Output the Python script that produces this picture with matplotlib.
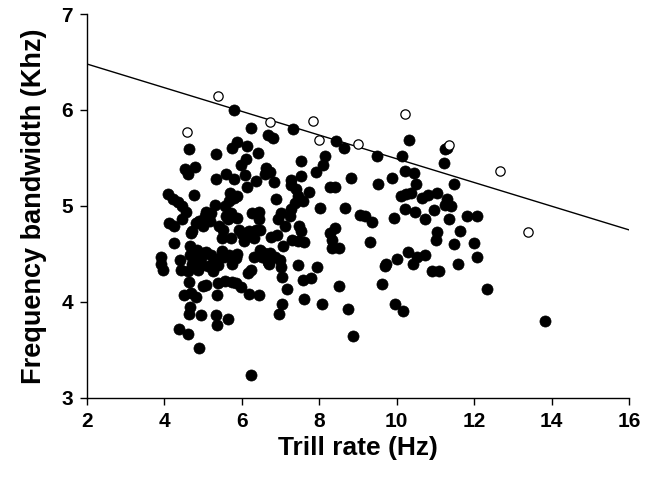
import matplotlib
matplotlib.use("Agg")
import matplotlib.pyplot as plt

# Filled points: trill rate (Hz), frequency bandwidth (kHz)
filled_x = [
    3.93, 3.92, 3.97,
    4.09, 4.22, 4.35, 4.13, 4.24, 4.26, 4.39,
    4.47, 4.57, 4.47, 4.53, 4.61, 4.65, 4.41, 4.43, 4.62, 4.63, 4.67, 4.67, 4.72, 4.52, 4.68, 4.66, 4.65, 4.61, 4.69,
    4.79, 4.78, 4.73, 4.83, 4.91, 4.79, 4.84, 4.86, 4.81, 4.96, 4.96, 4.91, 5.04, 5.07, 5.01, 5.02, 5.00, 4.93,
    5.09, 5.09, 5.14, 5.18, 5.20, 5.20, 5.25, 5.25, 5.28, 5.31, 5.33, 5.33, 5.34, 5.36, 5.36, 5.41, 5.39, 5.39,
    5.47, 5.49, 5.50, 5.52, 5.59, 5.59, 5.57, 5.55, 5.58, 5.65, 5.65, 5.68, 5.68, 5.71, 5.73, 5.73, 5.76, 5.76, 5.79, 5.74, 5.81, 5.81,
    5.84, 5.87, 5.89, 5.89, 5.89, 5.86, 5.94, 5.98, 6.00, 5.99, 6.05, 6.08, 6.12, 6.14, 6.14, 6.10, 6.16, 6.18, 6.19, 6.23, 6.24, 6.25, 6.26,
    6.32, 6.31, 6.38, 6.37, 6.42, 6.45, 6.45, 6.45, 6.47, 6.47, 6.53, 6.59, 6.58, 6.63, 6.69, 6.69,
    6.70, 6.72, 6.74, 6.76, 6.82, 6.84, 6.85, 6.88, 6.90, 6.94, 6.96, 6.99, 7.01, 7.02, 7.03, 7.04, 7.06, 7.12,
    7.18, 7.24, 7.27, 7.27, 7.27, 7.30, 7.33, 7.38, 7.40, 7.45, 7.46, 7.46, 7.49, 7.52, 7.52, 7.52, 7.57, 7.59, 7.60, 7.61,
    7.74, 7.80, 7.91, 7.94, 8.02, 8.06, 8.11, 8.16, 8.27, 8.40, 8.29, 8.34, 8.34, 8.51, 8.40, 8.44, 8.51, 8.65, 8.67, 8.74, 8.83, 8.88,
    9.06, 9.17, 9.36, 9.32, 9.48, 9.51, 9.62, 9.70, 9.73, 9.89, 9.94, 9.95, 10.01, 10.12, 10.13, 10.15, 10.21, 10.21, 10.25, 10.30, 10.33, 10.37, 10.42, 10.45, 10.48, 10.49, 10.53,
    10.66, 10.74, 10.74, 10.80, 10.92, 10.96, 11.02, 11.03, 11.05, 11.10, 11.23, 11.24, 11.25, 11.30, 11.30, 11.36, 11.40, 11.49, 11.49, 11.58, 11.63, 11.81, 11.99, 12.06, 12.07, 12.32, 13.82,
]
filled_y = [
    4.47, 4.40, 4.33,
    5.12, 5.07, 5.04, 4.82, 4.79, 4.61, 3.72,
    5.00, 4.94, 4.86, 5.39, 5.33, 5.59, 4.44, 4.33, 4.32, 4.21, 4.58, 4.49, 4.40, 4.07, 4.09, 3.95, 3.87, 3.67, 4.72,
    5.41, 5.11, 4.74, 4.82, 4.84, 4.47, 4.54, 4.33, 4.05, 4.46, 3.86, 3.52, 4.90, 4.94, 4.79, 4.51, 4.17, 4.37,
    4.18, 4.52, 4.37, 4.84, 4.93, 4.49, 4.40, 4.32, 4.45, 5.01, 5.54, 5.28, 3.86, 3.76, 4.07, 4.79, 4.20, 4.38,
    4.47, 4.53, 4.67, 4.75, 5.33, 4.89, 5.00, 4.47, 4.22, 4.86, 3.82, 5.05, 4.49, 5.14, 4.93, 4.67, 5.60, 4.39, 5.08, 4.21, 5.28, 6.00,
    4.46, 4.50, 5.67, 5.10, 4.87, 4.20, 4.75, 5.43, 4.71, 4.16, 4.63, 5.32, 5.49, 5.62, 5.20, 4.72, 4.30, 4.74, 4.08, 3.24, 4.33, 5.81, 4.93,
    4.67, 4.47, 5.26, 4.75, 5.55, 4.94, 4.86, 4.07, 4.75, 4.54, 4.47, 5.33, 4.51, 5.40, 5.74, 4.42,
    4.40, 5.35, 4.51, 4.68, 5.71, 5.25, 4.47, 5.07, 4.70, 4.86, 3.87, 4.44, 4.93, 4.36, 3.98, 4.26, 4.58, 4.79,
    4.13, 4.89, 5.27, 5.22, 4.97, 4.65, 5.80, 5.03, 5.18, 4.63, 5.10, 4.38, 4.79, 5.47, 5.31, 4.74, 4.23, 5.05, 4.62, 4.03,
    5.15, 4.25, 5.35, 4.36, 4.98, 3.98, 5.43, 5.52, 5.20, 5.20, 4.72, 4.65, 4.56, 4.56, 4.77, 5.68, 4.17, 5.60, 4.98, 3.93, 5.29, 3.64,
    4.91, 4.89, 4.83, 4.62, 5.52, 5.23, 4.19, 4.37, 4.40, 5.29, 4.87, 3.98, 4.45, 5.10, 5.52, 3.91, 5.36, 4.97, 5.12, 4.52, 5.69, 5.14, 4.39, 5.34, 4.94, 5.23, 4.47,
    5.08, 4.86, 4.49, 5.11, 4.32, 4.96, 4.65, 4.73, 5.13, 4.32, 5.45, 5.01, 5.59, 5.07, 5.60, 4.86, 5.00, 5.23, 4.60, 4.39, 4.74, 4.89, 4.61, 4.89, 4.47, 4.13, 3.80,
]

# Open points
open_x = [5.40, 4.60, 6.74, 7.85, 7.99, 9.01, 10.21, 11.34, 12.66, 13.39]
open_y = [6.15, 5.77, 5.88, 5.885, 5.69, 5.65, 5.955, 5.63, 5.36, 4.725]

# Regression (upper-bound) line
line_x = [2, 16]
line_y = [6.48, 4.75]

x_ticks = [2, 4, 6, 8, 10, 12, 14, 16]
y_ticks = [3, 4, 5, 6, 7]

plt.rcParams['font.family'] = ['Liberation Sans', 'DejaVu Sans']

fig = plt.figure(figsize=(6.52, 4.84), dpi=100)
ax = fig.add_axes([0.133, 0.178, 0.832, 0.793])

ax.plot(line_x, line_y, color='black', lw=1.0, zorder=1)
ax.scatter(filled_x, filled_y, s=64, c='black', edgecolors='black', linewidths=0.5, zorder=2)
ax.scatter(open_x, open_y, s=45, facecolors='white', edgecolors='black', linewidths=0.9, zorder=3)

ax.set_xlim(2, 16)
ax.set_ylim(3, 7)
ax.set_xticks(x_ticks)
ax.set_yticks(y_ticks)
for lab in ax.get_xticklabels() + ax.get_yticklabels():
    lab.set_fontweight('bold')
    lab.set_fontsize(15)

ax.spines['top'].set_visible(False)
ax.spines['right'].set_visible(False)
ax.spines['left'].set_linewidth(1.0)
ax.spines['bottom'].set_linewidth(1.0)
ax.tick_params(direction='out', length=5, width=1.0)
ax.tick_params(axis='x', pad=5)
ax.tick_params(axis='y', pad=5)

ax.set_xlabel('Trill rate (Hz)', fontsize=19, fontweight='bold', labelpad=4)
ax.set_ylabel('Frequency bandwidth (Khz)', fontsize=19.5, fontweight='bold', labelpad=10)

fig.savefig('out.png', dpi=100)
